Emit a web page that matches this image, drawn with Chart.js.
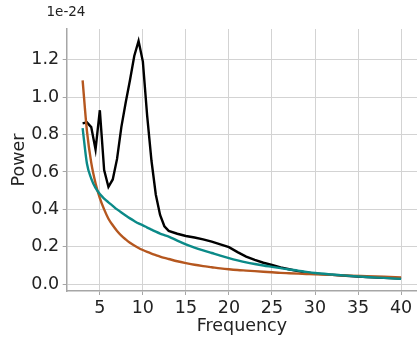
<!DOCTYPE html>
<html>
<head>
<meta charset="utf-8">
<script src="https://cdn.jsdelivr.net/npm/chart.js@4.4.1/dist/chart.umd.min.js"></script>
<style>
    html, body { margin: 0; padding: 0; background: #ffffff; }
    #wrap { width: 417px; height: 337px; }
</style>
</head>
<body>
<div id="wrap"><canvas id="psdChart" width="417" height="337"></canvas></div>
<script>
// =====================================
// DATA (power in units of 1e-24)
// =====================================

const freqs = [3, 3.5, 4, 4.5, 5, 5.5, 6, 6.5, 7, 7.5, 8, 8.5, 9, 9.5, 10, 10.5, 11, 11.5, 12, 12.5, 13,
    14, 15, 16, 17, 18, 19, 20, 21, 22, 23, 24, 25, 26, 27, 28, 29, 30, 32, 34, 36, 38, 40];

const powerSpectrum = [0.86, 0.865, 0.84, 0.72, 0.93, 0.61, 0.52, 0.56, 0.67, 0.84, 0.97, 1.09, 1.22, 1.30, 1.19, 0.90, 0.66, 0.48, 0.37, 0.31, 0.285,
    0.27, 0.258, 0.25, 0.24, 0.228, 0.213, 0.198, 0.172, 0.148, 0.13, 0.115, 0.103, 0.09, 0.08, 0.07, 0.063, 0.057, 0.05, 0.044, 0.039, 0.034, 0.03];

const fitTeal = [0.834, 0.645, 0.565, 0.515, 0.482, 0.458, 0.438, 0.419, 0.40, 0.383, 0.367, 0.352, 0.338, 0.325, 0.315, 0.303, 0.292, 0.281, 0.271, 0.263, 0.255,
    0.233, 0.213, 0.196, 0.181, 0.167, 0.153, 0.14, 0.128, 0.117, 0.108, 0.1, 0.093, 0.086, 0.079, 0.073, 0.066, 0.06, 0.052, 0.045, 0.039, 0.034, 0.029];

const fitOrange = [1.09, 0.82, 0.65, 0.54, 0.46, 0.40, 0.35, 0.315, 0.285, 0.26, 0.24, 0.222, 0.207, 0.194, 0.183, 0.173, 0.164, 0.156, 0.148, 0.141, 0.135,
    0.123, 0.113, 0.104, 0.097, 0.091, 0.085, 0.08, 0.076, 0.073, 0.07, 0.067, 0.064, 0.061, 0.059, 0.057, 0.055, 0.053, 0.05, 0.046, 0.043, 0.04, 0.037];

const xTicks = [5, 10, 15, 20, 25, 30, 35, 40];
const yTicks = [0, 0.2, 0.4, 0.6, 0.8, 1.0, 1.2];

const FONT = "'DejaVu Sans', sans-serif";

function toPoints(ys) {
    return freqs.map((f, i) => ({ x: f, y: ys[i] }));
}

// tulisan pengali di atas sumbu y
const offsetTextPlugin = {
    id: "offsetText",
    afterDraw(chart) {
        const ctx = chart.ctx;
        ctx.save();
        ctx.font = "13.5px " + FONT;
        ctx.fillStyle = "#222222";
        ctx.textAlign = "left";
        ctx.textBaseline = "middle";
        ctx.fillText("1e-24", 46.5, 12);
        ctx.restore();
    }
};

const ctx = document.getElementById("psdChart").getContext("2d");

new Chart(ctx, {
    type: "line",
    data: {
        datasets: [
            {
                label: "fit 2",
                data: toPoints(fitTeal),
                borderColor: "#0b8a88",
                borderWidth: 2.4,
                pointRadius: 0,
                cubicInterpolationMode: "monotone",
                fill: false
            },
            {
                label: "fit 1",
                data: toPoints(fitOrange),
                borderColor: "#b5571f",
                borderWidth: 2.4,
                pointRadius: 0,
                cubicInterpolationMode: "monotone",
                fill: false
            },
            {
                label: "spectrum",
                data: toPoints(powerSpectrum),
                borderColor: "#000000",
                borderWidth: 2.4,
                pointRadius: 0,
                tension: 0,
                fill: false
            }
        ]
    },
    options: {
        responsive: false,
        animation: false,
        layout: { padding: { top: 29, left: 0, right: 0, bottom: 0 } },
        plugins: {
            legend: { display: false },
            tooltip: { enabled: false }
        },
        scales: {
            x: {
                type: "linear",
                min: 1.15,
                max: 41.85,
                afterBuildTicks(scale) {
                    scale.ticks = xTicks.map(v => ({ value: v }));
                },
                afterFit(scale) {
                    scale.height = 46;
                },
                grid: {
                    color: "#d3d3d3",
                    lineWidth: 1,
                    tickLength: 4,
                    tickColor: "#a6a6a6"
                },
                border: { color: "#a6a6a6", width: 1.5 },
                ticks: {
                    color: "#222222",
                    padding: 3,
                    maxRotation: 0,
                    font: { family: FONT, size: 17.5 }
                },
                title: {
                    display: true,
                    text: "Frequency",
                    color: "#222222",
                    padding: { top: 0, bottom: 0 },
                    font: { family: FONT, size: 17.5, lineHeight: 1.2 }
                }
            },
            y: {
                type: "linear",
                min: -0.036,
                max: 1.364,
                afterBuildTicks(scale) {
                    scale.ticks = yTicks.map(v => ({ value: v }));
                },
                afterFit(scale) {
                    scale.width = 66.7;
                },
                grid: {
                    color: "#d3d3d3",
                    lineWidth: 1,
                    tickLength: 4,
                    tickColor: "#a6a6a6"
                },
                border: { color: "#a6a6a6", width: 1.5 },
                ticks: {
                    color: "#222222",
                    padding: 3.5,
                    font: { family: FONT, size: 17.5 },
                    callback: v => v.toFixed(1)
                },
                title: {
                    display: true,
                    text: "Power",
                    color: "#222222",
                    padding: { top: 9, bottom: 0 },
                    font: { family: FONT, size: 17.5, lineHeight: 1.2 }
                }
            }
        }
    },
    plugins: [offsetTextPlugin]
});
</script>
</body>
</html>
